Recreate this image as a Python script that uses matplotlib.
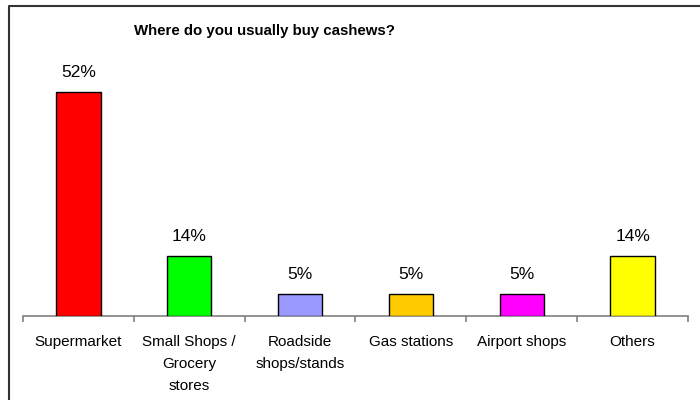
import numpy as np
import matplotlib.pyplot as plt
from matplotlib.lines import Line2D

plt.rcParams['font.family'] = ['Liberation Sans', 'DejaVu Sans']

categories = ['Supermarket', 'Small Shops /\nGrocery\nstores', 'Roadside\nshops/stands',
              'Gas stations', 'Airport shops', 'Others']
shares = [52, 14, 5, 5, 5, 14]
bar_colors = ['#FF0000', '#00FF00', '#9999FF', '#FFCC00', '#FF00FF', '#FFFF00']

fig = plt.figure(figsize=(7, 4), dpi=100)
ax = fig.add_axes([23/700, 84/400, 665/700, 0.6465])

x = np.arange(len(categories))
ax.bar(x, shares, width=0.4, color=bar_colors, edgecolor='black', linewidth=1.0, zorder=3)
for xi, v in zip(x, shares):
    ax.text(xi, v + 2.8, '%d%%' % v, ha='center', va='bottom', fontsize=12.5)

ax.set_xlim(-0.5, len(categories) - 0.5)
ax.set_ylim(0, 60)
ax.set_yticks([])
for side in ['top', 'right', 'left']:
    ax.spines[side].set_visible(False)
ax.spines['bottom'].set_color('#808080')
ax.spines['bottom'].set_linewidth(1.2)

# tick marks sit between categories, labels under each bar
ax.set_xticks(np.arange(len(categories) + 1) - 0.5)
ax.set_xticklabels([])
ax.tick_params(axis='x', direction='out', length=4, width=1.2, color='#808080')
for xi, lab in zip(x, categories):
    ax.text(xi, -4.5, lab, ha='center', va='top', fontsize=11, linespacing=1.72)

fig.text(265/700, 1 - 31/400, 'Where do you usually buy cashews?', ha='center', va='center',
         fontsize=10.8, fontweight='bold')

# outer frame of the chart object (only left and top edges fall inside the image)
fig.add_artist(Line2D([8.5/700, 8.5/700, 1.0], [0.0, 1 - 5.5/400, 1 - 5.5/400],
                      transform=fig.transFigure, color='#333333', linewidth=1.5))

fig.savefig('out.png', dpi=100)
